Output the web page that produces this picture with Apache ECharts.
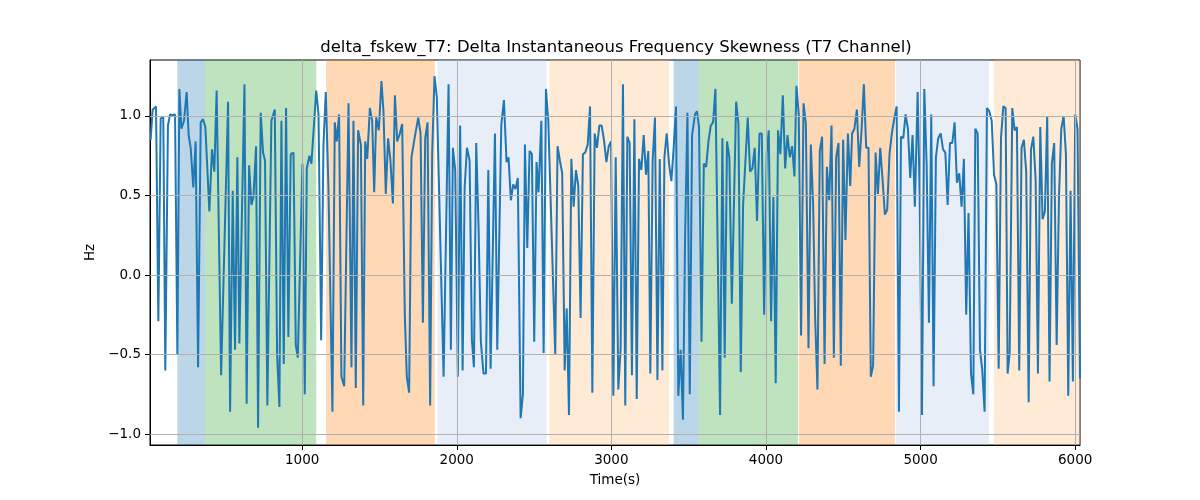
<!DOCTYPE html>
<html>
<head>
<meta charset="utf-8">
<script src="https://cdn.jsdelivr.net/npm/echarts@6/dist/echarts.min.js"></script>
<style>html,body{margin:0;padding:0;background:#fff}#c{width:1200px;height:500px}</style>
</head>
<body>
<div id="c"></div>
<script>
// ---- data ----
const times = [20,33,55,70,85,102,115,132,146,162,178,193,206,219,236,253,266,279,296,311,327,344,359,374,400,417,432,447,476,
521,534,551,566,581,594,627,641,657,672,685,702,715,732,747,760,775,801,823,838,853,866,881,896,911,926,944,959,972,1002,1017,
1030,1047,1060,1091,1106,1123,1138,1153,1170,1196,1211,1224,1239,1254,1272,1300,1319,1332,1347,1362,1380,1395,1408,1421,1438,1453,1466,1479,1496,1513,
1526,1541,1556,1571,1587,1600,1615,1632,1647,1664,1677,1692,1707,1729,1751,1766,1781,1796,1811,1828,1841,1856,1871,1915,1947,1962,1975,1990,2007,2022,
2038,2051,2066,2083,2098,2111,2126,2141,2156,2173,2189,2204,2219,2247,2262,2288,2305,2322,2335,2350,2365,2380,2395,2413,2428,2441,2456,2471,2486,2501,2516,2529,
2547,2562,2577,2592,2637,2652,2667,2682,2698,2711,2726,2741,2756,2771,2786,2801,2816,2831,2847,2862,2877,2892,2907,2922,2937,2952,2968,2983,2998,3013,3028,
3045,3060,3075,3090,3103,3118,3133,3149,3164,3179,3194,3209,3224,3239,3252,3267,3282,3298,3313,3330,3343,3358,3373,3388,3403,3418,3433,3448,3463,3477,3492,3507,3522,3541,
3554,3567,3583,3598,3613,3628,3643,3658,3673,3703,3718,3733,3748,3763,3779,3807,3822,3837,3852,3882,3897,3912,3927,3942,3958,3973,3988,4005,4018,4033,4048,
4063,4078,4093,4109,4124,4139,4154,4169,4184,4197,4212,4227,4243,4258,4275,4290,4305,4318,4333,4348,4363,4379,4394,4409,4424,4439,4454,4469,4484,4499,4514,4530,4545,
4557,4572,4588,4603,4618,4633,4648,4663,4678,4693,4709,4724,4739,4754,4769,4784,4799,4814,4829,4845,4860,4873,4888,4903,4918,4933,4948,4963,4981,4994,5009,5024,5039,5054,
5069,5084,5099,5114,5130,5145,5160,5175,5190,5205,5220,5235,5250,5265,5280,5295,5310,5326,5341,5354,5369,5384,5399,5414,5429,5444,5460,5475,5490,5505,5520,5535,5550,5563,
5576,5593,5608,5623,5638,5653,5668,5683,5699,5714,5729,5744,5759,5774,5789,5804,5819,5834,5849,5864,5880,5895,5910,5925,5940,5955,5970,5985,6000,6015,6031];
const values = [0.85,1.04,1.06,-0.29,0.985,0.99,-0.60,0.94,1.01,1.005,1.01,-0.50,1.17,0.92,0.97,1.15,0.88,0.80,0.55,0.84,-0.58,0.96,0.98,0.93,0.40,0.79,0.65,1.16,-0.63,
1.09,-0.86,0.53,-0.47,0.74,-0.43,1.20,-0.81,0.69,0.44,0.49,0.81,-0.96,1.02,0.77,0.72,-0.82,0.97,1.04,-0.50,-0.83,0.97,-0.56,1.05,-0.39,0.76,0.77,-0.44,-0.52,0.70,-0.75,
0.67,0.75,0.70,1.16,1.01,-0.41,0.82,1.15,0.55,-0.86,0.96,0.84,1.01,-0.64,-0.70,1.08,-0.58,0.97,-0.71,0.91,0.82,-0.82,0.84,0.73,1.05,0.97,0.52,0.99,0.91,1.22,
1.03,0.51,0.86,0.72,0.45,1.13,0.84,0.89,0.95,-0.25,-0.64,-0.74,0.74,0.87,0.99,0.89,-0.30,0.86,0.96,-0.82,0.76,1.25,1.12,-0.64,1.20,-0.47,0.80,0.66,-0.64,0.94,
-0.60,0.55,0.80,0.72,-0.41,-0.58,0.83,0.30,-0.42,-0.62,-0.62,0.66,-0.59,0.89,-0.47,0.94,1.10,0.71,0.74,0.47,0.57,0.54,0.61,-0.90,-0.75,0.82,0.17,0.78,0.76,-0.42,0.71,0.52,
0.97,-0.49,1.17,0.97,-0.50,0.81,0.72,0.64,-0.60,-0.21,-0.88,0.73,0.43,0.66,0.56,-0.27,0.76,0.77,0.82,1.06,-0.74,0.89,0.80,0.94,0.94,0.85,0.71,0.81,0.84,-0.76,0.74,
-0.72,-0.46,1.20,-0.82,0.87,0.83,-0.63,0.98,-0.78,0.73,0.66,0.88,0.63,0.78,-0.62,0.72,0.99,-0.66,0.73,-0.60,0.74,0.89,0.70,0.59,0.80,1.06,-0.76,-0.47,-0.91,0.25,1.02,-0.75,0.88,1.01,
1.03,0.93,-0.42,0.70,0.68,0.84,0.94,0.96,1.17,-0.88,0.86,-0.52,0.84,0.74,-0.18,1.09,0.95,-0.61,0.44,0.99,0.65,0.67,0.80,0.34,0.89,0.89,-0.25,0.77,0.91,-0.29,0.49,
-0.68,0.91,0.76,1.13,0.67,0.88,0.74,0.81,0.62,1.19,1.01,-0.38,1.08,0.95,-0.46,0.82,0.44,-0.27,-0.72,0.78,0.87,-0.56,0.68,0.47,0.94,-0.52,0.74,0.83,-0.57,0.85,0.22,0.89,0.56,
0.89,0.92,1.04,0.68,0.91,1.20,0.80,0.80,-0.64,-0.57,0.77,0.51,0.80,0.60,0.38,0.41,0.76,0.89,0.98,1.06,-0.86,0.87,0.86,1.01,0.92,0.61,0.88,0.43,1.15,0.51,-0.88,1.17,0.70,-0.30,
1.01,-0.70,0.74,0.86,0.89,0.79,0.77,0.44,0.83,0.83,0.96,0.58,0.64,0.43,0.73,-0.25,0.39,-0.62,-0.75,0.92,0.89,-0.47,-0.60,-0.86,1.05,1.03,0.97,0.63,0.57,-0.59,0.86,1.06,1.05,-0.62,
-0.49,1.05,0.91,0.93,-0.60,0.80,0.85,0.65,-0.80,0.79,0.87,0.60,-0.62,0.93,0.35,0.40,1.00,-0.67,0.70,0.83,-0.44,0.49,0.92,1.00,0.76,-0.76,0.53,-0.67,1.01,0.92,-0.65];
const bandStarts = [193, 372, 1155, 1876, 2598, 3403, 3565, 4214, 4840, 5474];
const bandEnds   = [372, 1091, 1858, 2581, 3373, 3565, 4208, 4834, 5442, 6040];
const bandKinds  = ['blue','green','orange','lightblue','lightorange','blue','green','orange','lightblue','lightorange'];
const xTicks = [1000, 2000, 3000, 4000, 5000, 6000];
const yTicks = [-1.0, -0.5, 0.0, 0.5, 1.0];
const xRange = [16, 6031];
const yRange = [-1.069, 1.352];
const titleText = 'delta_fskew_T7: Delta Instantaneous Frequency Skewness (T7 Channel)';

// ---- styles ----
const bandColors = {
  blue: 'rgba(31,119,180,0.3)',
  green: 'rgba(44,160,44,0.3)',
  orange: 'rgba(255,127,14,0.3)',
  lightblue: 'rgba(174,199,232,0.3)',
  lightorange: 'rgba(255,187,120,0.3)'
};
const FONT = 'DejaVu Sans';
const fmtY = v => (v < 0 ? '\u2212' : '') + Math.abs(v).toFixed(1);

const lineData = times.map((t, i) => [t, values[i]]);
const areas = bandStarts.map((s, i) => [
  { xAxis: s, itemStyle: { color: bandColors[bandKinds[i]] } },
  { xAxis: Math.min(bandEnds[i], xRange[1]) }
]);
const gridLines = xTicks.map(v => ({ xAxis: v })).concat(yTicks.map(v => ({ yAxis: v })));

const chart = echarts.init(document.getElementById('c'), null, { renderer: 'canvas' });
chart.setOption({
  animation: false,
  backgroundColor: '#fff',
  title: {
    text: titleText, left: 611, top: 34, textAlign: 'center',
    textStyle: { fontFamily: FONT, fontSize: 16.5, fontWeight: 'normal', color: '#000' }
  },
  grid: { left: 150, right: 120, top: 60, bottom: 55, show: true, borderColor: '#000', borderWidth: 1, backgroundColor: 'transparent' },
  xAxis: {
    type: 'value', min: xRange[0], max: xRange[1],
    name: 'Time(s)', nameLocation: 'middle', nameGap: 28,
    nameTextStyle: { fontFamily: FONT, fontSize: 13.5, color: '#000' },
    axisLine: { show: true, onZero: false, lineStyle: { color: '#000', width: 1 } },
    axisTick: { show: true, inside: false, length: 5, lineStyle: { color: '#000' }, customValues: xTicks },
    axisLabel: { fontFamily: FONT, fontSize: 13.5, color: '#000', margin: 8, customValues: xTicks, formatter: v => String(v) },
    splitLine: { show: false }
  },
  yAxis: {
    type: 'value', min: yRange[0], max: yRange[1],
    name: 'Hz', nameLocation: 'middle', nameGap: 52, nameRotate: 90,
    nameTextStyle: { fontFamily: FONT, fontSize: 13.5, color: '#000' },
    axisLine: { show: true, onZero: false, lineStyle: { color: '#000', width: 1 } },
    axisTick: { show: true, inside: false, length: 5, lineStyle: { color: '#000' }, customValues: yTicks },
    axisLabel: { fontFamily: FONT, fontSize: 13.5, color: '#000', margin: 9, customValues: yTicks, formatter: fmtY },
    splitLine: { show: false }
  },
  series: [
    {
      type: 'line', data: [], z: 1, silent: true,
      markArea: { silent: true, data: areas },
    },
    {
      type: 'line', data: [], z: 2, silent: true,
      markLine: {
        silent: true, symbol: ['none', 'none'], label: { show: false },
        lineStyle: { color: '#b0b0b0', width: 1, type: 'solid' },
        data: gridLines
      }
    },
    {
      type: 'line', data: lineData, z: 3, showSymbol: false, symbol: 'none',
      lineStyle: { color: '#1f77b4', width: 2 }, itemStyle: { color: '#1f77b4' }
    }
  ]
});
</script>
</body>
</html>
